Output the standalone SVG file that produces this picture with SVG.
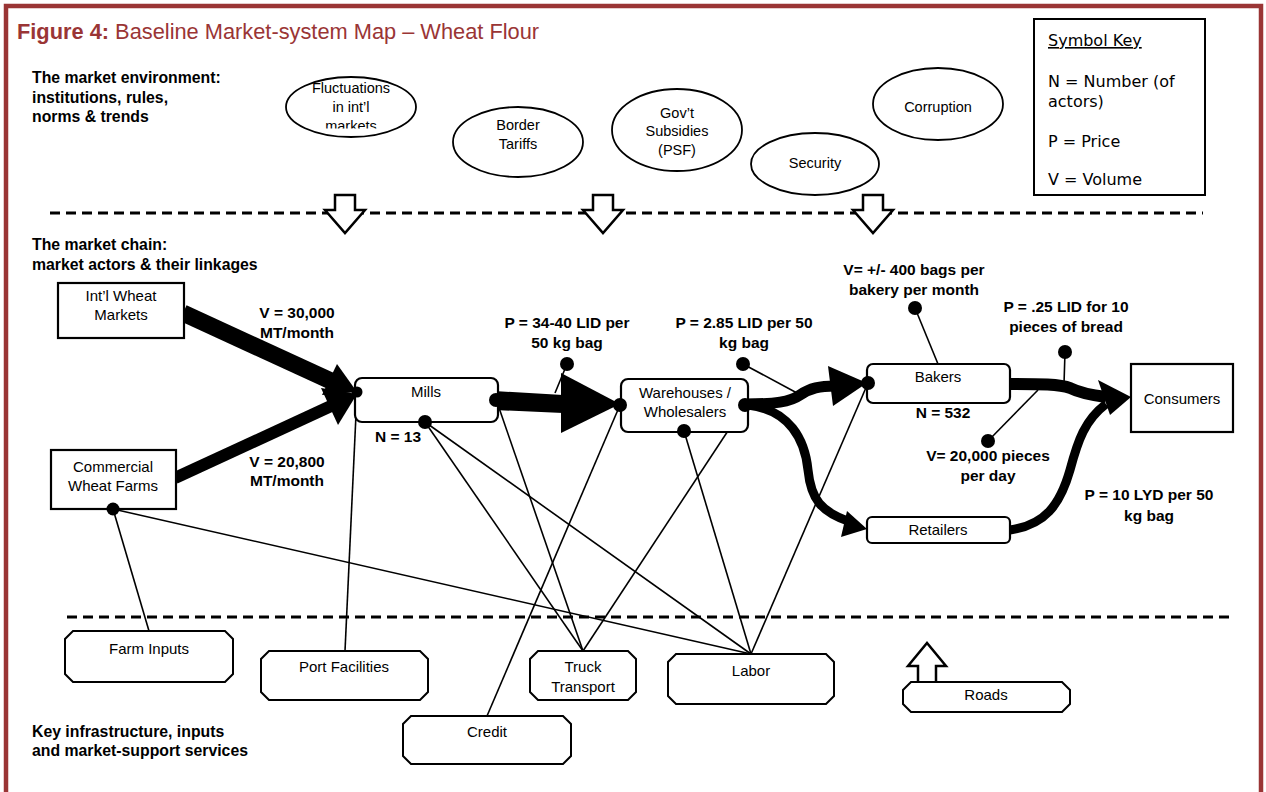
<svg xmlns="http://www.w3.org/2000/svg" width="1266" height="792" viewBox="0 0 1266 792">
<style>
text{font-family:"Liberation Sans",Arial,sans-serif;fill:#000}
.t{font-size:15px;text-anchor:middle}
.te{font-size:14.5px;text-anchor:middle}
.bc{font-size:15.5px;font-weight:bold;text-anchor:middle}
.sec{font-size:15.8px;font-weight:bold}
.key{font-family:"DejaVu Sans",sans-serif;font-size:16px}
.title{font-size:21.8px;fill:#9a3535}
.node{fill:#fff;stroke:#000;stroke-width:2.2}
.ell{fill:#fff;stroke:#000;stroke-width:1.8}
.oct{fill:#fff;stroke:#000;stroke-width:2}
.ln{stroke:#000;stroke-width:1.6;fill:none}
.dash{stroke:#000;stroke-width:3;stroke-dasharray:10 6;fill:none}
.blk{fill:#fff;stroke:#000;stroke-width:2.5;stroke-linejoin:miter}
.thick{fill:none;stroke:#000;stroke-linecap:butt}
.dot{fill:#000}
</style>
<defs>
<clipPath id="clipF"><rect x="280" y="70" width="140" height="58.5"/></clipPath>
</defs>
<rect x="0" y="0" width="1266" height="792" fill="#fff"/>
<rect x="6" y="6" width="1255" height="800" fill="none" stroke="#9a3535" stroke-width="4.5"/>

<text class="title" x="17" y="39"><tspan font-weight="bold">Figure 4:</tspan> Baseline Market-system Map – Wheat Flour</text>

<g id="section-labels">
<text class="sec" x="32" y="83">The market environment:</text>
<text class="sec" x="32" y="103">institutions, rules,</text>
<text class="sec" x="32" y="122">norms &amp; trends</text>
<text class="sec" x="32" y="250">The market chain:</text>
<text class="sec" x="32" y="270">market actors &amp; their linkages</text>
<text class="sec" x="32" y="737">Key infrastructure, inputs</text>
<text class="sec" x="32" y="756">and market-support services</text>
</g>

<g id="symbol-key">
<rect x="1034" y="19" width="171" height="176" fill="#fff" stroke="#000" stroke-width="2"/>
<text class="key" x="1048" y="46" text-decoration="underline">Symbol Key</text>
<text class="key" x="1048" y="87">N = Number (of</text>
<text class="key" x="1048" y="107">actors)</text>
<text class="key" x="1048" y="147">P = Price</text>
<text class="key" x="1048" y="185">V = Volume</text>
</g>

<g id="env-fluctuations">
<ellipse class="ell" cx="351" cy="107" rx="65" ry="30"/>
<g clip-path="url(#clipF)">
<text class="te" x="351" y="93">Fluctuations</text>
<text class="te" x="351" y="112">in int’l</text>
<text class="te" x="351" y="130.5">markets</text>
</g>
</g>
<g id="env-border-tariffs">
<ellipse class="ell" cx="518" cy="142" rx="65" ry="35"/>
<text class="te" x="518" y="130">Border</text>
<text class="te" x="518" y="149">Tariffs</text>
</g>
<g id="env-subsidies">
<ellipse class="ell" cx="677" cy="130" rx="65" ry="41"/>
<text class="te" x="677" y="118">Gov’t</text>
<text class="te" x="677" y="136">Subsidies</text>
<text class="te" x="677" y="155">(PSF)</text>
</g>
<g id="env-security">
<ellipse class="ell" cx="815" cy="164" rx="64" ry="31"/>
<text class="te" x="815" y="168" font-size="14">Security</text>
</g>
<g id="env-corruption">
<ellipse class="ell" cx="938" cy="104" rx="65" ry="36"/>
<text class="te" x="938" y="112" font-size="14">Corruption</text>
</g>

<g id="dividers">
<line class="dash" x1="50" y1="213" x2="1203" y2="213"/>
<line class="dash" x1="67" y1="617" x2="1229" y2="617"/>
<path class="blk" d="M335,195 H355 V210 H365 L345,233 L325,210 H335 Z"/>
<path class="blk" d="M593,195 H613 V210 H623 L603,233 L583,210 H593 Z"/>
<path class="blk" d="M863,195 H883 V210 H893 L873,233 L853,210 H863 Z"/>
<path class="blk" d="M918,681 V666 H908 L927,643 L946,666 H936 V681"/>
</g>

<g id="connectors">
<line class="ln" x1="113" y1="509" x2="149" y2="631"/>
<line class="ln" x1="113" y1="509" x2="751" y2="654"/>
<line class="ln" x1="357" y1="393" x2="345" y2="651"/>
<line class="ln" x1="425" y1="422" x2="583" y2="651"/>
<line class="ln" x1="425" y1="422" x2="751" y2="654"/>
<line class="ln" x1="497" y1="402" x2="583" y2="651"/>
<line class="ln" x1="620" y1="405" x2="487" y2="716"/>
<line class="ln" x1="745" y1="405" x2="583" y2="651"/>
<line class="ln" x1="684" y1="431" x2="751" y2="654"/>
<line class="ln" x1="868" y1="383" x2="751" y2="654"/>
<line class="ln" x1="567" y1="364" x2="555" y2="393"/>
<line class="ln" x1="743" y1="364" x2="797" y2="393"/>
<line class="ln" x1="915" y1="308" x2="938" y2="364"/>
<line class="ln" x1="1065" y1="352" x2="1064" y2="384"/>
<line class="ln" x1="988" y1="441" x2="1038" y2="390"/>

<line class="thick" x1="183" y1="313" x2="331" y2="381" stroke-width="17"/>
<polygon points="337,364 357,392 322,395" fill="#000"/>
<line class="thick" x1="175" y1="478" x2="331" y2="406" stroke-width="12"/>
<polygon points="321,388 357,394 338,425" fill="#000"/>

<polygon points="494,391 563,395 563,413 494,410" fill="#000"/>
<polygon points="561,373 620,404 561,433" fill="#000"/>

<path class="thick" d="M745,404 C775,404 790,402 800,395 C810,388 820,386 835,386" stroke-width="11"/>
<polygon points="828,366 867,383 833,406" fill="#000"/>

<path class="thick" d="M748,405 C790,410 805,440 808,470 C811,500 822,512 848,521" stroke-width="9"/>
<polygon points="847,511 867,529 841,537" fill="#000"/>

<path class="thick" d="M1010,384 C1040,384 1060,384 1070,388 C1080,393 1090,395 1106,397" stroke-width="12"/>
<path class="thick" d="M1010,530 C1045,525 1060,505 1070,470 C1078,440 1085,420 1106,404" stroke-width="9"/>
<polygon points="1098,380 1131,397 1110,415" fill="#000"/>
</g>

<g id="node-intl-wheat">
<rect class="node" x="58" y="283" width="126" height="55"/>
<text class="t" x="121" y="301">Int’l Wheat</text>
<text class="t" x="121" y="320">Markets</text>
</g>
<g id="node-commercial-farms">
<rect class="node" x="51" y="450" width="125" height="59"/>
<text class="t" x="113" y="472">Commercial</text>
<text class="t" x="113" y="491">Wheat Farms</text>
</g>
<g id="node-mills">
<rect class="node" x="355" y="378" width="143" height="44" rx="7"/>
<text class="t" x="426" y="397">Mills</text>
</g>
<g id="node-warehouses">
<rect class="node" x="621" y="379" width="127" height="53" rx="7"/>
<text class="t" x="685" y="398">Warehouses /</text>
<text class="t" x="685" y="417">Wholesalers</text>
</g>
<g id="node-bakers">
<rect class="node" x="867" y="364" width="143" height="39" rx="6"/>
<text class="t" x="938" y="382">Bakers</text>
</g>
<g id="node-retailers">
<rect class="node" x="867" y="517" width="143" height="26" rx="5"/>
<text class="t" x="938" y="535">Retailers</text>
</g>
<g id="node-consumers">
<rect class="node" x="1131" y="364" width="102" height="68"/>
<text class="t" x="1182" y="404">Consumers</text>
</g>

<g id="dots">
<circle class="dot" cx="113" cy="509" r="6.5"/>
<circle class="dot" cx="357" cy="392" r="5.5"/>
<circle class="dot" cx="425" cy="422" r="7"/>
<circle class="dot" cx="496" cy="400" r="7"/>
<circle class="dot" cx="620" cy="405" r="7"/>
<circle class="dot" cx="745" cy="405" r="7"/>
<circle class="dot" cx="684" cy="431" r="7"/>
<circle class="dot" cx="868" cy="383" r="7"/>
<circle class="dot" cx="567" cy="364" r="7"/>
<circle class="dot" cx="743" cy="364" r="7"/>
<circle class="dot" cx="915" cy="308" r="7"/>
<circle class="dot" cx="1065" cy="352" r="7"/>
<circle class="dot" cx="988" cy="441" r="7"/>
</g>

<g id="labels">
<text class="bc" x="297" y="318">V = 30,000</text>
<text class="bc" x="297" y="338">MT/month</text>
<text class="bc" x="287" y="467">V = 20,800</text>
<text class="bc" x="287" y="486">MT/month</text>
<text class="bc" x="398" y="442">N = 13</text>
<text class="bc" x="567" y="328">P = 34-40 LID per</text>
<text class="bc" x="567" y="348">50 kg bag</text>
<text class="bc" x="744" y="328">P = 2.85 LID per 50</text>
<text class="bc" x="744" y="348">kg bag</text>
<text class="bc" x="914" y="275">V= +/- 400 bags per</text>
<text class="bc" x="914" y="295">bakery per month</text>
<text class="bc" x="1066" y="312">P = .25 LID for 10</text>
<text class="bc" x="1066" y="332">pieces of bread</text>
<text class="bc" x="943" y="418">N = 532</text>
<text class="bc" x="988" y="461">V= 20,000 pieces</text>
<text class="bc" x="988" y="481">per day</text>
<text class="bc" x="1149" y="500">P = 10 LYD per 50</text>
<text class="bc" x="1149" y="521">kg bag</text>
</g>

<g id="node-farm-inputs">
<path class="oct" d="M73,631 H225 L233,639 V674 L225,682 H73 L65,674 V639 Z"/>
<text class="t" x="149" y="654">Farm Inputs</text>
</g>
<g id="node-port">
<path class="oct" d="M269,651 H420 L428,659 V692 L420,700 H269 L261,692 V659 Z"/>
<text class="t" x="344" y="672">Port Facilities</text>
</g>
<g id="node-truck">
<path class="oct" d="M538,651 H628 L636,659 V692 L628,700 H538 L530,692 V659 Z"/>
<text class="t" x="583" y="672">Truck</text>
<text class="t" x="583" y="692">Transport</text>
</g>
<g id="node-credit">
<path class="oct" d="M411,716 H563 L571,724 V756 L563,764 H411 L403,756 V724 Z"/>
<text class="t" x="487" y="737">Credit</text>
</g>
<g id="node-labor">
<path class="oct" d="M676,654 H826 L834,662 V696 L826,704 H676 L668,696 V662 Z"/>
<text class="t" x="751" y="676">Labor</text>
</g>
<g id="node-roads">
<path class="oct" d="M911,682 H1062 L1070,690 V704 L1062,712 H911 L903,704 V690 Z"/>
<text class="t" x="986" y="700">Roads</text>
</g>
</svg>
